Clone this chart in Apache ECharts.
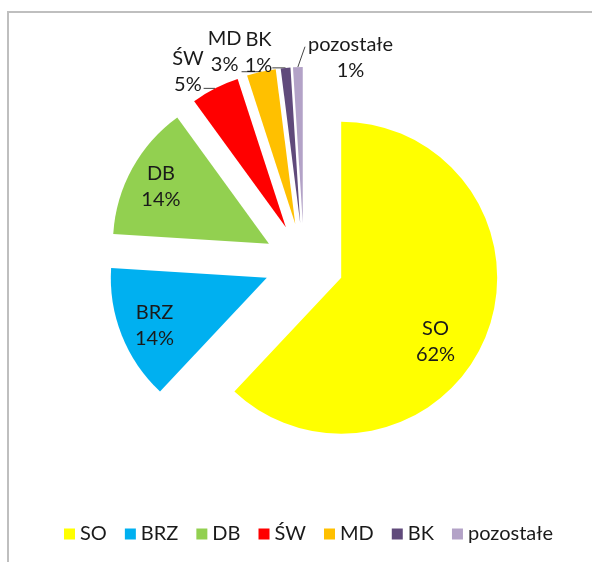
<!DOCTYPE html>
<html>
<head>
<meta charset="utf-8">
<title>Udział</title>
<script src="https://cdn.jsdelivr.net/npm/echarts@6/dist/echarts.min.js"></script>
<style>
  html, body { margin: 0; padding: 0; background: #fff; }
  #chart { width: 592px; height: 562px; }
</style>
</head>
<body>
<div id="chart"></div>
<script>
// Data
const categories = ['SO', 'BRZ', 'DB', 'ŚW', 'MD', 'BK', 'pozostałe']
const shares = [62, 14, 14, 5, 3, 1, 1]
const colors = ['#ffff00', '#00b0f0', '#92d050', '#ff0000', '#ffc000', '#604a7b', '#b3a2c7']

// label tweaks (Excel puts labels further out than ECharts does)
const insideShift = {
  SO: [19, 34],
  BRZ: [-37, 18],
  DB: [-37, -18]
}
const outsideShift = {
  'ŚW': [78, -152],
  MD: [95, -114],
  BK: [91, -59],
  'pozostałe': [68, 0]
}
// where the leader meets the label box (null = nearest point)
const leaderAttach = {
  'pozostałe': [-3, 0.3]
}

const font = 'Lato, "Open Sans", sans-serif'

const clamp = (v, a, b) => Math.max(a, Math.min(b, v))

const chart = echarts.init(document.getElementById('chart'))

const option = {
  animation: false,
  color: colors,
  textStyle: { fontFamily: font },
  graphic: [{
    type: 'rect',
    silent: true,
    shape: { x: 8, y: 12, width: 900, height: 900 },
    style: { fill: 'none', stroke: '#bfbfbf', lineWidth: 2 }
  }],
  legend: {
    left: 59,
    top: 519,
    itemWidth: 11,
    itemHeight: 11,
    itemGap: 18,
    icon: 'rect',
    textStyle: { fontFamily: font, fontSize: 20, color: '#1a1a1a' },
    data: categories
  },
  series: [{
    type: 'pie',
    center: [304, 263],
    radius: 156,
    startAngle: 90,
    clockwise: true,
    selectedMode: 'multiple',
    selectedOffset: 40,
    percentPrecision: 0,
    emphasis: { disabled: true },
    select: { itemStyle: { borderWidth: 0 } },
    label: {
      formatter: '{b}\n{d}%',
      fontFamily: font,
      fontSize: 20,
      lineHeight: 26,
      color: '#1a1a1a',
      align: 'center'
    },
    labelLine: {
      length: 10,
      length2: 10,
      lineStyle: { color: '#444', width: 1 }
    },
    labelLayout: (params) => {
      const name = categories[params.dataIndex]
      if (insideShift[name]) {
        return { dx: insideShift[name][0], dy: insideShift[name][1] }
      }
      const [dx, dy] = outsideShift[name]
      const r = params.labelRect
      let anchor = r.x + r.width / 2
      if (params.align === 'right') anchor = r.x + r.width
      else if (params.align === 'left') anchor = r.x
      const box = { x: anchor - r.width / 2 + dx, y: r.y + dy, w: r.width, h: r.height }
      const p0 = params.labelLinePoints[0]
      let end = [clamp(p0[0], box.x, box.x + box.w), clamp(p0[1], box.y, box.y + box.h)]
      const att = leaderAttach[name]
      if (att) end = [box.x + att[0], box.y + box.h * att[1]]
      return { dx, dy, align: 'center', labelLinePoints: [p0, end] }
    },
    data: categories.map((name, i) => ({
      name,
      value: shares[i],
      selected: true,
      label: { position: insideShift[name] ? 'inside' : 'outside' },
      labelLine: { show: !insideShift[name] }
    }))
  }]
}

chart.setOption(option)
</script>
</body>
</html>
